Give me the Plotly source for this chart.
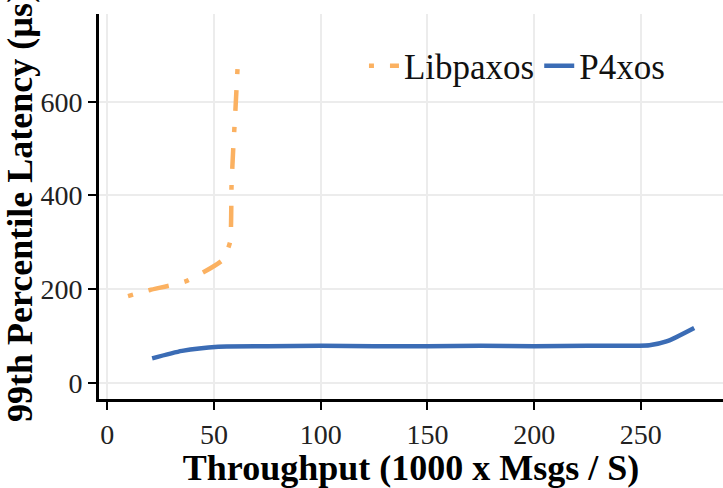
import plotly.graph_objects as go

# Data
lib_x = [9.7, 20, 37, 54, 57.5, 58.2, 59, 60, 61.2]
lib_y = [185, 198, 217, 262, 300, 420, 500, 580, 688]

p4_x = [21, 35, 52, 75, 100, 125, 150, 175, 200, 225, 254, 262, 275]
p4_y = [52, 68, 77, 78, 79, 78, 78, 79, 78, 79, 80, 88, 117]

x_ticks = [0, 50, 100, 150, 200, 250]
y_ticks = [0, 200, 400, 600]

ORANGE = "#FBB161"
BLUE = "#3B6CB5"
FONT = "Liberation Serif, Times New Roman, serif"

fig = go.Figure()
fig.add_trace(go.Scatter(
    x=lib_x, y=lib_y, mode="lines", name="Libpaxos",
    line=dict(color=ORANGE, width=4.5, dash="5px,16px,21px,16px",
              shape="spline", smoothing=0.5),
))
fig.add_trace(go.Scatter(
    x=p4_x, y=p4_y, mode="lines", name="P4xos",
    line=dict(color=BLUE, width=4.5, shape="spline", smoothing=0.6),
))

axis_common = dict(
    showline=True, linecolor="black", linewidth=3,
    ticks="outside", ticklen=8, tickwidth=2, tickcolor="black",
    showgrid=True, gridcolor="#ECECEC", gridwidth=2,
    zeroline=False,
    tickfont=dict(family=FONT, size=28, color="#222222"),
)

fig.update_xaxes(
    range=[-3.9, 288.5], tickvals=x_ticks, ticktext=[str(v) for v in x_ticks],
    title=dict(text="<b>Throughput (1000 x Msgs / S)</b>",
               font=dict(family=FONT, size=36, color="black"), standoff=2),
    **axis_common,
)
fig.update_yaxes(
    range=[-34.8, 787.3], tickvals=y_ticks, ticktext=[str(v) for v in y_ticks],
    title=dict(text="<b>99th Percentile Latency (µs)</b>",
               font=dict(family=FONT, size=36, color="black"), standoff=8),
    **axis_common,
)

fig.update_layout(
    width=723, height=488,
    margin=dict(l=99, r=0, t=14, b=89),
    plot_bgcolor="white", paper_bgcolor="white",
    legend=dict(
        orientation="h", x=0.915, xanchor="right", y=0.865, yanchor="middle",
        font=dict(family=FONT, size=35, color="#111111"),
        bgcolor="rgba(0,0,0,0)", itemwidth=30, tracegroupgap=0,
    ),
)

fig.write_html("out.html")
